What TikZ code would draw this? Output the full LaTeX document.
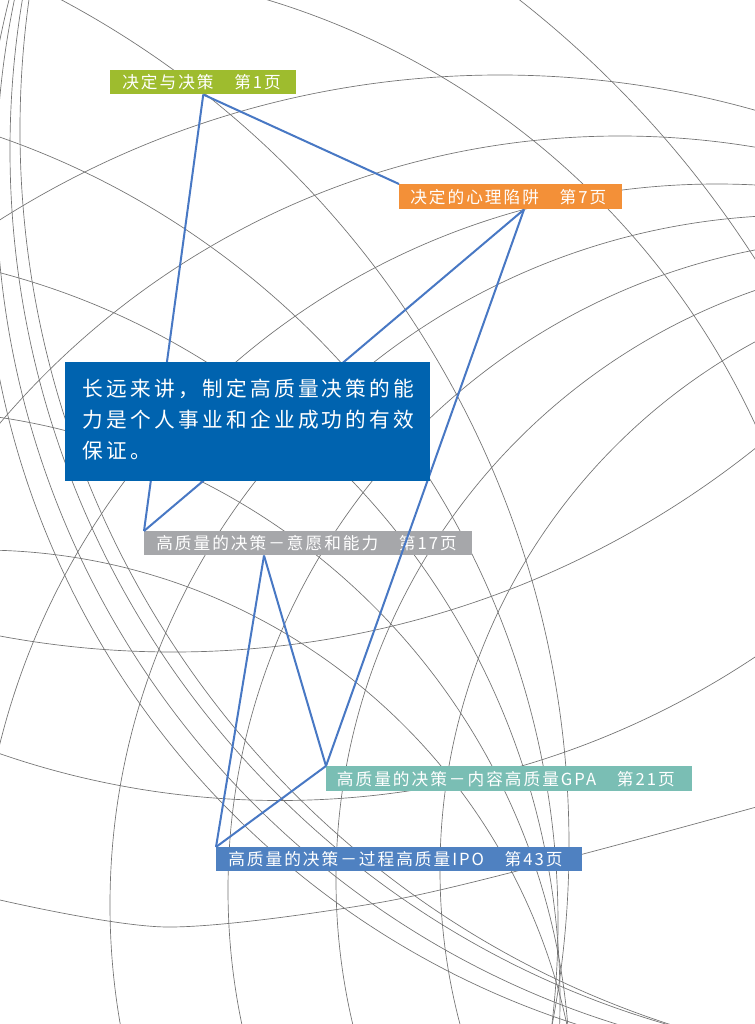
\documentclass[tikz,border=0pt]{standalone}
\usepackage{fontspec}
\setmainfont{Noto Sans CJK SC}
\newfontfamily\lblfont[LetterSpace=12]{Noto Sans CJK SC}
\newfontfamily\quotefont[LetterSpace=16]{Noto Sans CJK SC}
\usetikzlibrary{calc}
\definecolor{cgreen}{RGB}{158,188,46}
\definecolor{corange}{RGB}{243,144,56}
\definecolor{cquote}{RGB}{0,99,175}
\definecolor{cgray}{RGB}{166,167,170}
\definecolor{cteal}{RGB}{122,190,180}
\definecolor{cipo}{RGB}{79,129,193}
\definecolor{cline}{RGB}{72,120,196}
\definecolor{cgrid}{RGB}{115,115,115}
\begin{document}
\begin{tikzpicture}[x=0.75pt,y=-0.75pt,
  gridl/.style={draw=cgrid,line width=0.5pt},
  conn/.style={draw=cline,line width=1.5pt},
  lbl/.style={anchor=north west,inner xsep=9pt,inner ysep=0pt,minimum height=18pt,text=white,
    font={\lblfont\fontsize{12.5pt}{15pt}\selectfont}}]
\useasboundingbox (0,0) rectangle (755,1024);
\fill[white] (0,0) rectangle (755,1024);
\begin{scope}
\clip (0,0) rectangle (755,1024);
% family 1: arcs bulging up-right
\foreach \cx/\cy/\r in {-126/823/1046, 38/756/790, -388/845/957, -274/923/832, -192/1000/752, -100/1080/670, -20/1150/600}
  \draw[gridl] (\cx,\cy) circle[radius=\r];
% family 2: arcs bulging up-left
\foreach \cx/\cy/\r in {500/1010/935, 620/949/813, 717/923/739, 800/905/690, 880/890/652, 960/880/624, 1040/870/600}
  \draw[gridl] (\cx,\cy) circle[radius=\r];
% family 3: arcs along the left edge sweeping to the bottom
\foreach \cx/\cy/\r in {838/210/855, 880/180/884, 920/150/910, 960/130/940}
  \draw[gridl] (\cx,\cy) circle[radius=\r];
% lower arcs
\draw[gridl] (280,-57) circle[radius=857.5];
\draw[gridl] (173,-282) circle[radius=934];
\draw[gridl] plot[smooth] coordinates {(0,900) (167,927) (377,903) (560,860) (760,806)};
\end{scope}
% label boxes
\node[lbl,fill=cgreen] (green) at (110,70) {\makebox[121.5pt][l]{决定与决策　第1页}};
\node[lbl,fill=corange,minimum height=18.75pt,inner xsep=8.25pt] (orange) at (399,184) {\makebox[150.75pt][l]{决定的心理陷阱　第7页}};
\node[lbl,fill=cgray] (gray) at (144,531) {\makebox[228pt][l]{高质量的决策－意愿和能力　第17页}};
\node[lbl,fill=cteal,minimum height=18.75pt,inner xsep=8pt] (teal) at (326,766) {\makebox[258.5pt][l]{高质量的决策－内容高质量GPA　第21页}};
\node[lbl,fill=cipo] (ipo) at (216,847) {\makebox[256.5pt][l]{高质量的决策－过程高质量IPO　第43页}};
\coordinate (o1) at ($(orange.south west)+(125,0)$);
\coordinate (g1) at ($(gray.south west)+(120,0)$);
% connectors
\draw[conn] (green.south) -- (gray.north west);
\draw[conn] (green.south) -- (orange.north west);
\draw[conn] (o1) -- (gray.north west);
\draw[conn] (o1) -- (teal.north west);
\draw[conn] (g1) -- (teal.north west);
\draw[conn] (g1) -- (ipo.north west);
\draw[conn] (teal.north west) -- (ipo.north west);
% quote box
\node[anchor=north west,fill=cquote,minimum width=273.75pt,minimum height=89.25pt,inner sep=0pt] (quote) at (65,362) {};
\node[anchor=north west,inner sep=0pt,text=white,text width=262pt,align=left,
  font={\quotefont\fontsize{15.5pt}{23.25pt}\selectfont}] (qtext) at ($(quote.north west)+(17,17)$)
  {长远来讲，制定高质量决策的能\\力是个人事业和企业成功的有效\\保证。};
\end{tikzpicture}
\end{document}
